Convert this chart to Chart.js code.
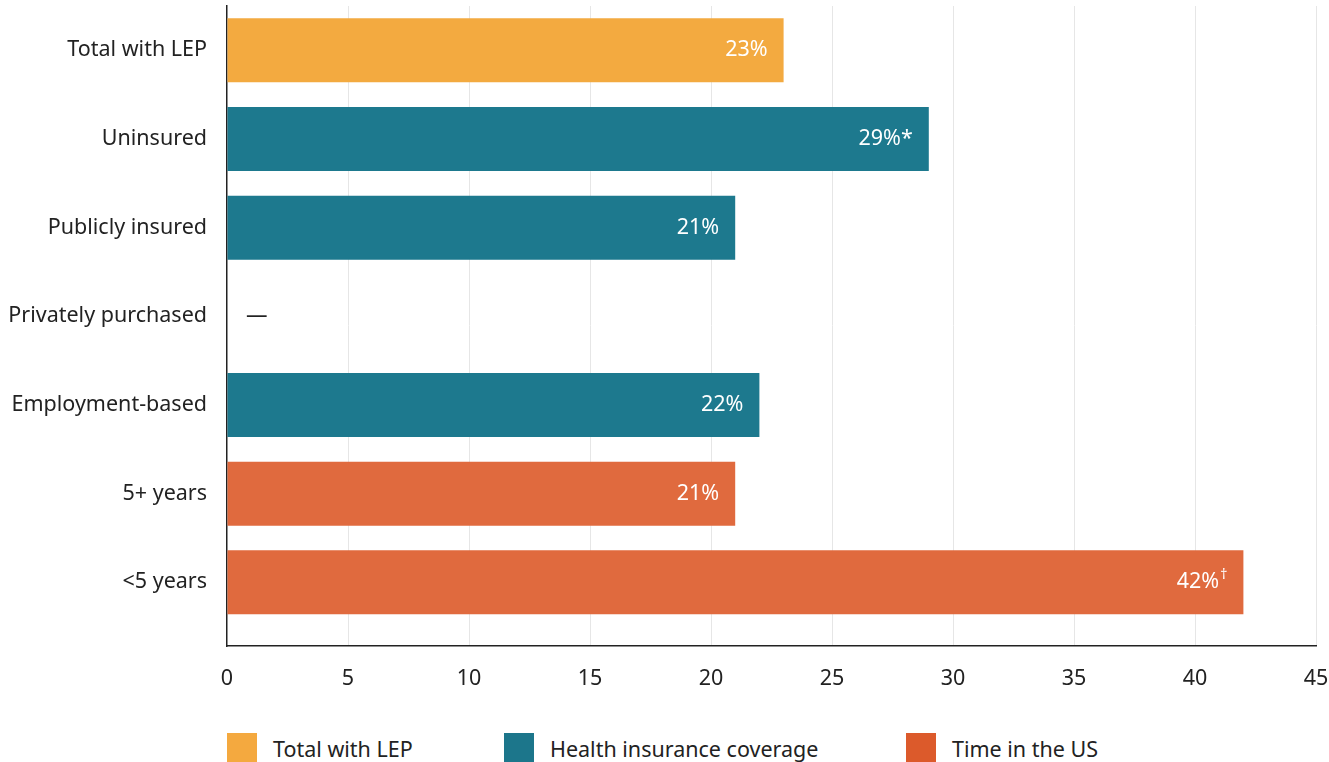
<!DOCTYPE html>
<html>
<head>
<meta charset="utf-8">
<script src="https://cdn.jsdelivr.net/npm/chart.js@4.4.1/dist/chart.umd.min.js"></script>
<style>
  html, body { margin:0; padding:0; background:#fff; }
  body { width:1329px; height:762px; overflow:hidden; font-family:"Noto Sans", sans-serif; }
  .wrap { position:relative; width:1329px; height:712px; }
  #legend { position:absolute; top:733px; left:227px; display:flex; }
  .item { display:flex; align-items:center; height:30px; font-size:21.5px; color:#222; }
  .sw { width:30px; height:30px; margin-right:16px; }
</style>
</head>
<body>
<div class="wrap"><canvas id="c"></canvas></div>
<div id="legend"></div>
<script>
const rowLabels = ["Total with LEP","Uninsured","Publicly insured","Privately purchased","Employment-based","5+ years","<5 years"];
const values    = [23, 29, 21, null, 22, 21, 42];
const rowGroup  = [0, 1, 1, 1, 1, 2, 2];
const valueText = ["23%","29%*","21%","—","22%","21%","42%"];
const valueSup  = ["","","","","","","†"];
const groupNames = ["Total with LEP","Health insurance coverage","Time in the US"];
const barColors    = ["#F3AA40","#1D798E","#E06A3E"];
const legendColors = ["#F4A93F","#1C768B","#DC5A2B"];
const xTicks = [0,5,10,15,20,25,30,35,40,45];

const FONT = "Noto Sans";
const FS = 21.5;

const datasets = groupNames.map((name, g) => ({
  label: name,
  data: values.map((v, i) => ({ x: v, y: i })).filter((p, i) => rowGroup[i] === g && p.x !== null),
  backgroundColor: barColors[g],
  borderWidth: 0,
  grouped: false,
  categoryPercentage: 1,
  barPercentage: 0.722
}));

// value labels inside the bar ends, dash for missing row
const valueLabels = {
  id: "valueLabels",
  afterDatasetsDraw(chart) {
    const ctx = chart.ctx;
    const xs = chart.scales.x, ys = chart.scales.y;
    ctx.save();
    ctx.textBaseline = "middle";
    values.forEach((v, i) => {
      const y = ys.getPixelForValue(i);
      if (v === null) {
        ctx.fillStyle = "#222";
        ctx.font = `${FS}px "${FONT}"`;
        ctx.textAlign = "left";
        ctx.fillText(valueText[i], xs.getPixelForValue(0) + 19, y);
        return;
      }
      let right = xs.getPixelForValue(v) - 16;
      ctx.fillStyle = "#fff";
      if (valueSup[i]) {
        ctx.font = `14px "${FONT}"`;
        ctx.textAlign = "right";
        ctx.fillText(valueSup[i], right, y - 7);
        right -= ctx.measureText(valueSup[i]).width + 1;
      }
      ctx.font = `${FS}px "${FONT}"`;
      ctx.textAlign = "right";
      ctx.fillText(valueText[i], right, y);
    });
    ctx.restore();
  }
};

new Chart(document.getElementById("c"), {
  type: "bar",
  data: { datasets },
  plugins: [valueLabels],
  options: {
    indexAxis: "y",
    responsive: true,
    maintainAspectRatio: false,
    animation: false,
    layout: { padding: { top: 6, right: 13, left: 0, bottom: 0 } },
    plugins: { legend: { display: false }, tooltip: { enabled: false } },
    scales: {
      x: {
        type: "linear",
        min: 0, max: 45,
        afterBuildTicks: (s) => { s.ticks = xTicks.map(v => ({ value: v })); },
        afterFit: (s) => { s.paddingLeft = 0; s.paddingRight = 0; },
        ticks: { color: "#222", font: { family: FONT, size: FS }, padding: 20 },
        grid: {
          drawTicks: false,
          color: (c) => (c.tick && c.tick.value === 0) ? "rgba(0,0,0,0)" : "#e6e6e6",
          lineWidth: 1
        },
        border: { display: true, color: "#222", width: 1.5 }
      },
      y: {
        type: "linear",
        reverse: true,
        offset: false,
        min: -0.5, max: 6.72,
        afterBuildTicks: (s) => { s.ticks = rowLabels.map((_, i) => ({ value: i })); },
        afterFit: (s) => { s.width = 227; s.paddingTop = 0; s.paddingBottom = 0; },
        ticks: { color: "#222", font: { family: FONT, size: FS }, padding: 20, callback: (v) => rowLabels[v] },
        grid: { display: false, drawTicks: false, offset: false },
        border: { display: true, color: "#222", width: 1.5 }
      }
    }
  }
});

// legend
const itemWidths = [277, 402, 300];
const lg = document.getElementById("legend");
groupNames.forEach((name, g) => {
  const it = document.createElement("div");
  it.className = "item";
  it.style.width = itemWidths[g] + "px";
  it.innerHTML = `<span class="sw" style="background:${legendColors[g]}"></span><span>${name}</span>`;
  lg.appendChild(it);
});
</script>
</body>
</html>
